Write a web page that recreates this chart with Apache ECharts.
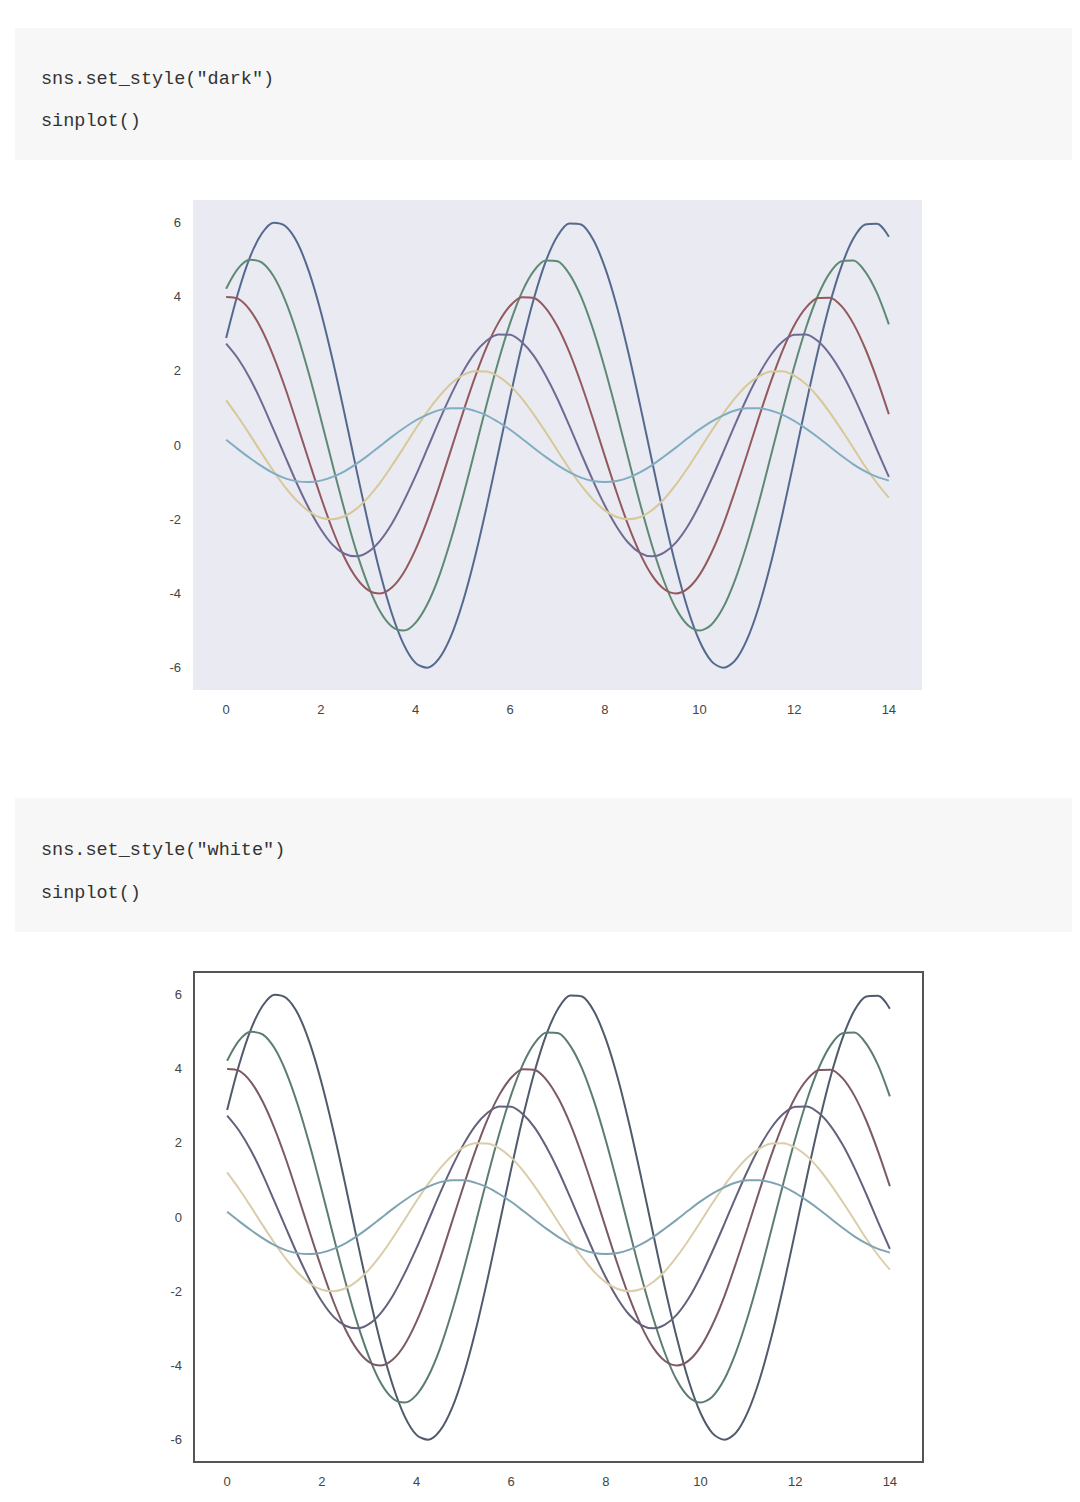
<!DOCTYPE html>
<html>
<head>
<meta charset="utf-8">
<script src="https://cdn.jsdelivr.net/npm/echarts@6/dist/echarts.min.js"></script>
<style>
  html, body { margin: 0; padding: 0; background: #fff; }
  #main { width: 1080px; height: 1502px; }
</style>
</head>
<body>
<div id="main"></div>
<script>
// x positions (every 0.25 from 0 to 14)
var xs = [0, 0.25, 0.5, 0.75, 1, 1.25, 1.5, 1.75, 2, 2.25, 2.5, 2.75, 3, 3.25, 3.5, 3.75,
  4, 4.25, 4.5, 4.75, 5, 5.25, 5.5, 5.75, 6, 6.25, 6.5, 6.75, 7, 7.25, 7.5, 7.75,
  8, 8.25, 8.5, 8.75, 9, 9.25, 9.5, 9.75, 10, 10.25, 10.5, 10.75, 11, 11.25, 11.5, 11.75,
  12, 12.25, 12.5, 12.75, 13, 13.25, 13.5, 13.75, 14];
var xTicks = [0, 2, 4, 6, 8, 10, 12, 14];
var yTicks = [-6, -4, -2, 0, 2, 4, 6];

// curves
var blue = [2.88, 4.09, 5.05, 5.69, 5.99, 5.90, 5.46, 4.67, 3.59, 2.29, 0.85, -0.65, -2.10, -3.43, -4.54, -5.37,
  -5.87, -6.00, -5.75, -5.15, -4.23, -3.05, -1.68, -0.20, 1.29, 2.70, 3.94, 4.94, 5.63, 5.97, 5.94, 5.54,
  4.79, 3.75, 2.47, 1.04, -0.45, -1.92, -3.26, -4.41, -5.28, -5.82, -6.00, -5.81, -5.25, -4.37, -3.22, -1.87,
  -0.40, 1.10, 2.52, 3.79, 4.82, 5.56, 5.94, 5.96, 5.61];
var green = [4.21, 4.75, 4.99, 4.92, 4.55, 3.89, 2.99, 1.91, 0.71, -0.54, -1.75, -2.86, -3.78, -4.48, -4.89, -5.00,
  -4.79, -4.29, -3.53, -2.54, -1.40, -0.17, 1.08, 2.25, 3.29, 4.12, 4.69, 4.97, 4.95, 4.61, 3.99, 3.12,
  2.06, 0.87, -0.38, -1.60, -2.72, -3.67, -4.40, -4.85, -5.00, -4.84, -4.38, -3.64, -2.68, -1.56, -0.33, 0.91,
  2.10, 3.16, 4.02, 4.63, 4.95, 4.97, 4.67, 4.09, 3.25];
var red = [3.99, 3.94, 3.64, 3.11, 2.39, 1.53, 0.56, -0.43, -1.40, -2.29, -3.03, -3.58, -3.91, -4.00, -3.84, -3.44,
  -2.82, -2.03, -1.12, -0.13, 0.86, 1.80, 2.63, 3.29, 3.75, 3.98, 3.96, 3.69, 3.19, 2.50, 1.65, 0.70,
  -0.30, -1.28, -2.18, -2.94, -3.52, -3.88, -4.00, -3.87, -3.50, -2.91, -2.15, -1.24, -0.27, 0.73, 1.68, 2.53,
  3.22, 3.70, 3.96, 3.97, 3.74, 3.27, 2.60, 1.77, 0.83];
var purple = [2.73, 2.33, 1.80, 1.15, 0.42, -0.32, -1.05, -1.71, -2.27, -2.69, -2.93, -3.00, -2.88, -2.58, -2.12, -1.52,
  -0.84, -0.10, 0.65, 1.35, 1.97, 2.47, 2.81, 2.98, 2.97, 2.77, 2.40, 1.87, 1.24, 0.52, -0.23, -0.96,
  -1.63, -2.20, -2.64, -2.91, -3.00, -2.90, -2.63, -2.19, -1.61, -0.93, -0.20, 0.55, 1.26, 1.89, 2.41, 2.78,
  2.97, 2.98, 2.80, 2.45, 1.95, 1.33, 0.62, -0.13, -0.86];
var gold = [1.20, 0.76, 0.28, -0.22, -0.70, -1.14, -1.51, -1.79, -1.96, -2.00, -1.92, -1.72, -1.41, -1.02, -0.56, -0.07,
  0.43, 0.90, 1.31, 1.65, 1.88, 1.99, 1.98, 1.85, 1.60, 1.25, 0.82, 0.35, -0.15, -0.64, -1.09, -1.47,
  -1.76, -1.94, -2.00, -1.94, -1.75, -1.46, -1.07, -0.62, -0.13, 0.37, 0.84, 1.26, 1.61, 1.85, 1.98, 1.99,
  1.87, 1.64, 1.30, 0.88, 0.41, -0.08, -0.58, -1.03, -1.42];
var cyan = [0.14, -0.11, -0.35, -0.57, -0.76, -0.90, -0.98, -1.00, -0.96, -0.86, -0.71, -0.51, -0.28, -0.03, 0.22, 0.45,
  0.66, 0.82, 0.94, 0.99, 0.99, 0.92, 0.80, 0.62, 0.41, 0.17, -0.08, -0.32, -0.54, -0.73, -0.88, -0.97,
  -1.00, -0.97, -0.88, -0.73, -0.54, -0.31, -0.07, 0.18, 0.42, 0.63, 0.80, 0.93, 0.99, 0.99, 0.93, 0.82,
  0.65, 0.44, 0.21, -0.04, -0.29, -0.52, -0.71, -0.86, -0.96];

var curves = [blue, green, red, purple, gold, cyan];
var darkColors = ['#55698f', '#5e8a74', '#92595e', '#6f6a94', '#d8c898', '#80adc2'];
var whiteColors = ['#4f5b6c', '#5c7c72', '#7c5a63', '#63617c', '#dacdaa', '#80a3b2'];

var chart = echarts.init(document.getElementById('main'), null, { renderer: 'svg' });

function xAxis(idx) {
  return {
    type: 'value', gridIndex: idx, min: -0.7, max: 14.7,
    axisLine: { show: false }, axisTick: { show: false }, splitLine: { show: false },
    axisLabel: { customValues: xTicks, margin: 13, color: '#444', fontSize: 13, fontFamily: 'Liberation Sans' }
  };
}
function yAxis(idx) {
  return {
    type: 'value', gridIndex: idx, min: -6.6, max: 6.6,
    axisLine: { show: false }, axisTick: { show: false }, splitLine: { show: false },
    axisLabel: { customValues: yTicks, margin: 12, color: '#444', fontSize: 13, fontFamily: 'Liberation Sans' }
  };
}

var series = [];
[darkColors, whiteColors].forEach(function (cols, g) {
  curves.forEach(function (c, i) {
    series.push({
      type: 'line', xAxisIndex: g, yAxisIndex: g,
      data: xs.map(function (x, j) { return [x, c[j]]; }),
      smooth: 0.3, showSymbol: false,
      lineStyle: { color: cols[i], width: 2 }
    });
  });
});

function codeBox(top, h, line1, y1, y2) {
  return [
    { type: 'rect', shape: { x: 15, y: top, width: 1057, height: h }, style: { fill: '#f7f7f7' } },
    { type: 'text', x: 41, y: y1, style: { text: line1, font: '18.5px "Liberation Mono"', fill: '#333', verticalAlign: 'middle' } },
    { type: 'text', x: 41, y: y2, style: { text: 'sinplot()', font: '18.5px "Liberation Mono"', fill: '#333', verticalAlign: 'middle' } }
  ];
}

chart.setOption({
  animation: false,
  backgroundColor: '#fff',
  graphic: codeBox(28, 132, 'sns.set_style("dark")', 79, 121)
    .concat(codeBox(798, 134, 'sns.set_style("white")', 850, 893)),
  grid: [
    { left: 193, top: 200, width: 729, height: 490, show: true, backgroundColor: '#eaeaf2', borderWidth: 0 },
    { left: 194, top: 972, width: 729, height: 490, show: true, backgroundColor: '#fff', borderColor: '#555', borderWidth: 2 }
  ],
  xAxis: [xAxis(0), xAxis(1)],
  yAxis: [yAxis(0), yAxis(1)],
  series: series
});
</script>
</body>
</html>
